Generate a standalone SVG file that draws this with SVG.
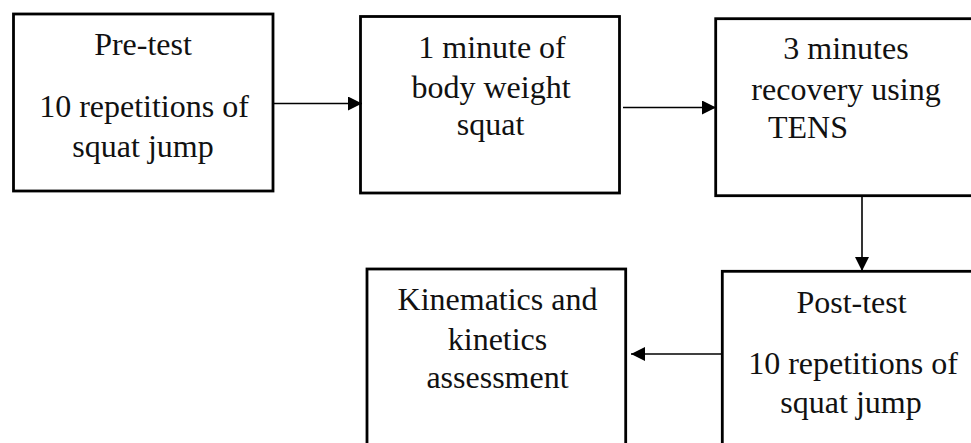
<svg xmlns="http://www.w3.org/2000/svg" width="971" height="443" viewBox="0 0 971 443">
<style>
.box{fill:#fff;stroke:#000;stroke-width:2.8}
.t{font-family:"Liberation Serif","Times New Roman",serif;font-size:32px;fill:#111;text-anchor:middle}
.c{fill:none;stroke:#000;stroke-width:1.6}
</style>
<defs>
<marker id="ah" markerUnits="userSpaceOnUse" viewBox="0 0 14 14" markerWidth="14" markerHeight="14" refX="14" refY="7" orient="auto">
<path d="M0,0 L14,7 L0,14 z" fill="#000"/>
</marker>
</defs>
<rect width="971" height="443" fill="#fff"/>
<g id="n1">
<rect class="box" x="13.5" y="14" width="259.5" height="177"/>
<text class="t" x="143" y="55">Pre-test</text>
<text class="t" x="144" y="117">10 repetitions of</text>
<text class="t" x="143" y="157">squat jump</text>
</g>
<g id="n2">
<rect class="box" x="360.5" y="16.5" width="259" height="176.5"/>
<text class="t" x="492" y="58">1 minute of</text>
<text class="t" x="491" y="98">body weight</text>
<text class="t" x="490.5" y="135">squat</text>
</g>
<g id="n3">
<rect class="box" x="715.7" y="18.7" width="265" height="177"/>
<text class="t" x="846" y="59">3 minutes</text>
<text class="t" x="846" y="100">recovery using</text>
<text class="t" x="768" y="138" style="text-anchor:start">TENS</text>
</g>
<g id="n4">
<rect class="box" x="367" y="269" width="258.7" height="190"/>
<text class="t" x="497.5" y="310">Kinematics and</text>
<text class="t" x="497.5" y="350">kinetics</text>
<text class="t" x="497.5" y="388">assessment</text>
</g>
<g id="n5">
<rect class="box" x="722.3" y="271.3" width="260" height="190"/>
<text class="t" x="851.5" y="313">Post-test</text>
<text class="t" x="853" y="374">10 repetitions of</text>
<text class="t" x="851" y="413">squat jump</text>
</g>
<g id="connectors">
<path class="c" d="M273,103.5 H362" marker-end="url(#ah)"/>
<path class="c" d="M623,107.5 H716" marker-end="url(#ah)"/>
<path class="c" d="M862,196 V271" marker-end="url(#ah)"/>
<path class="c" d="M721,354 H631" marker-end="url(#ah)"/>
</g>
</svg>
